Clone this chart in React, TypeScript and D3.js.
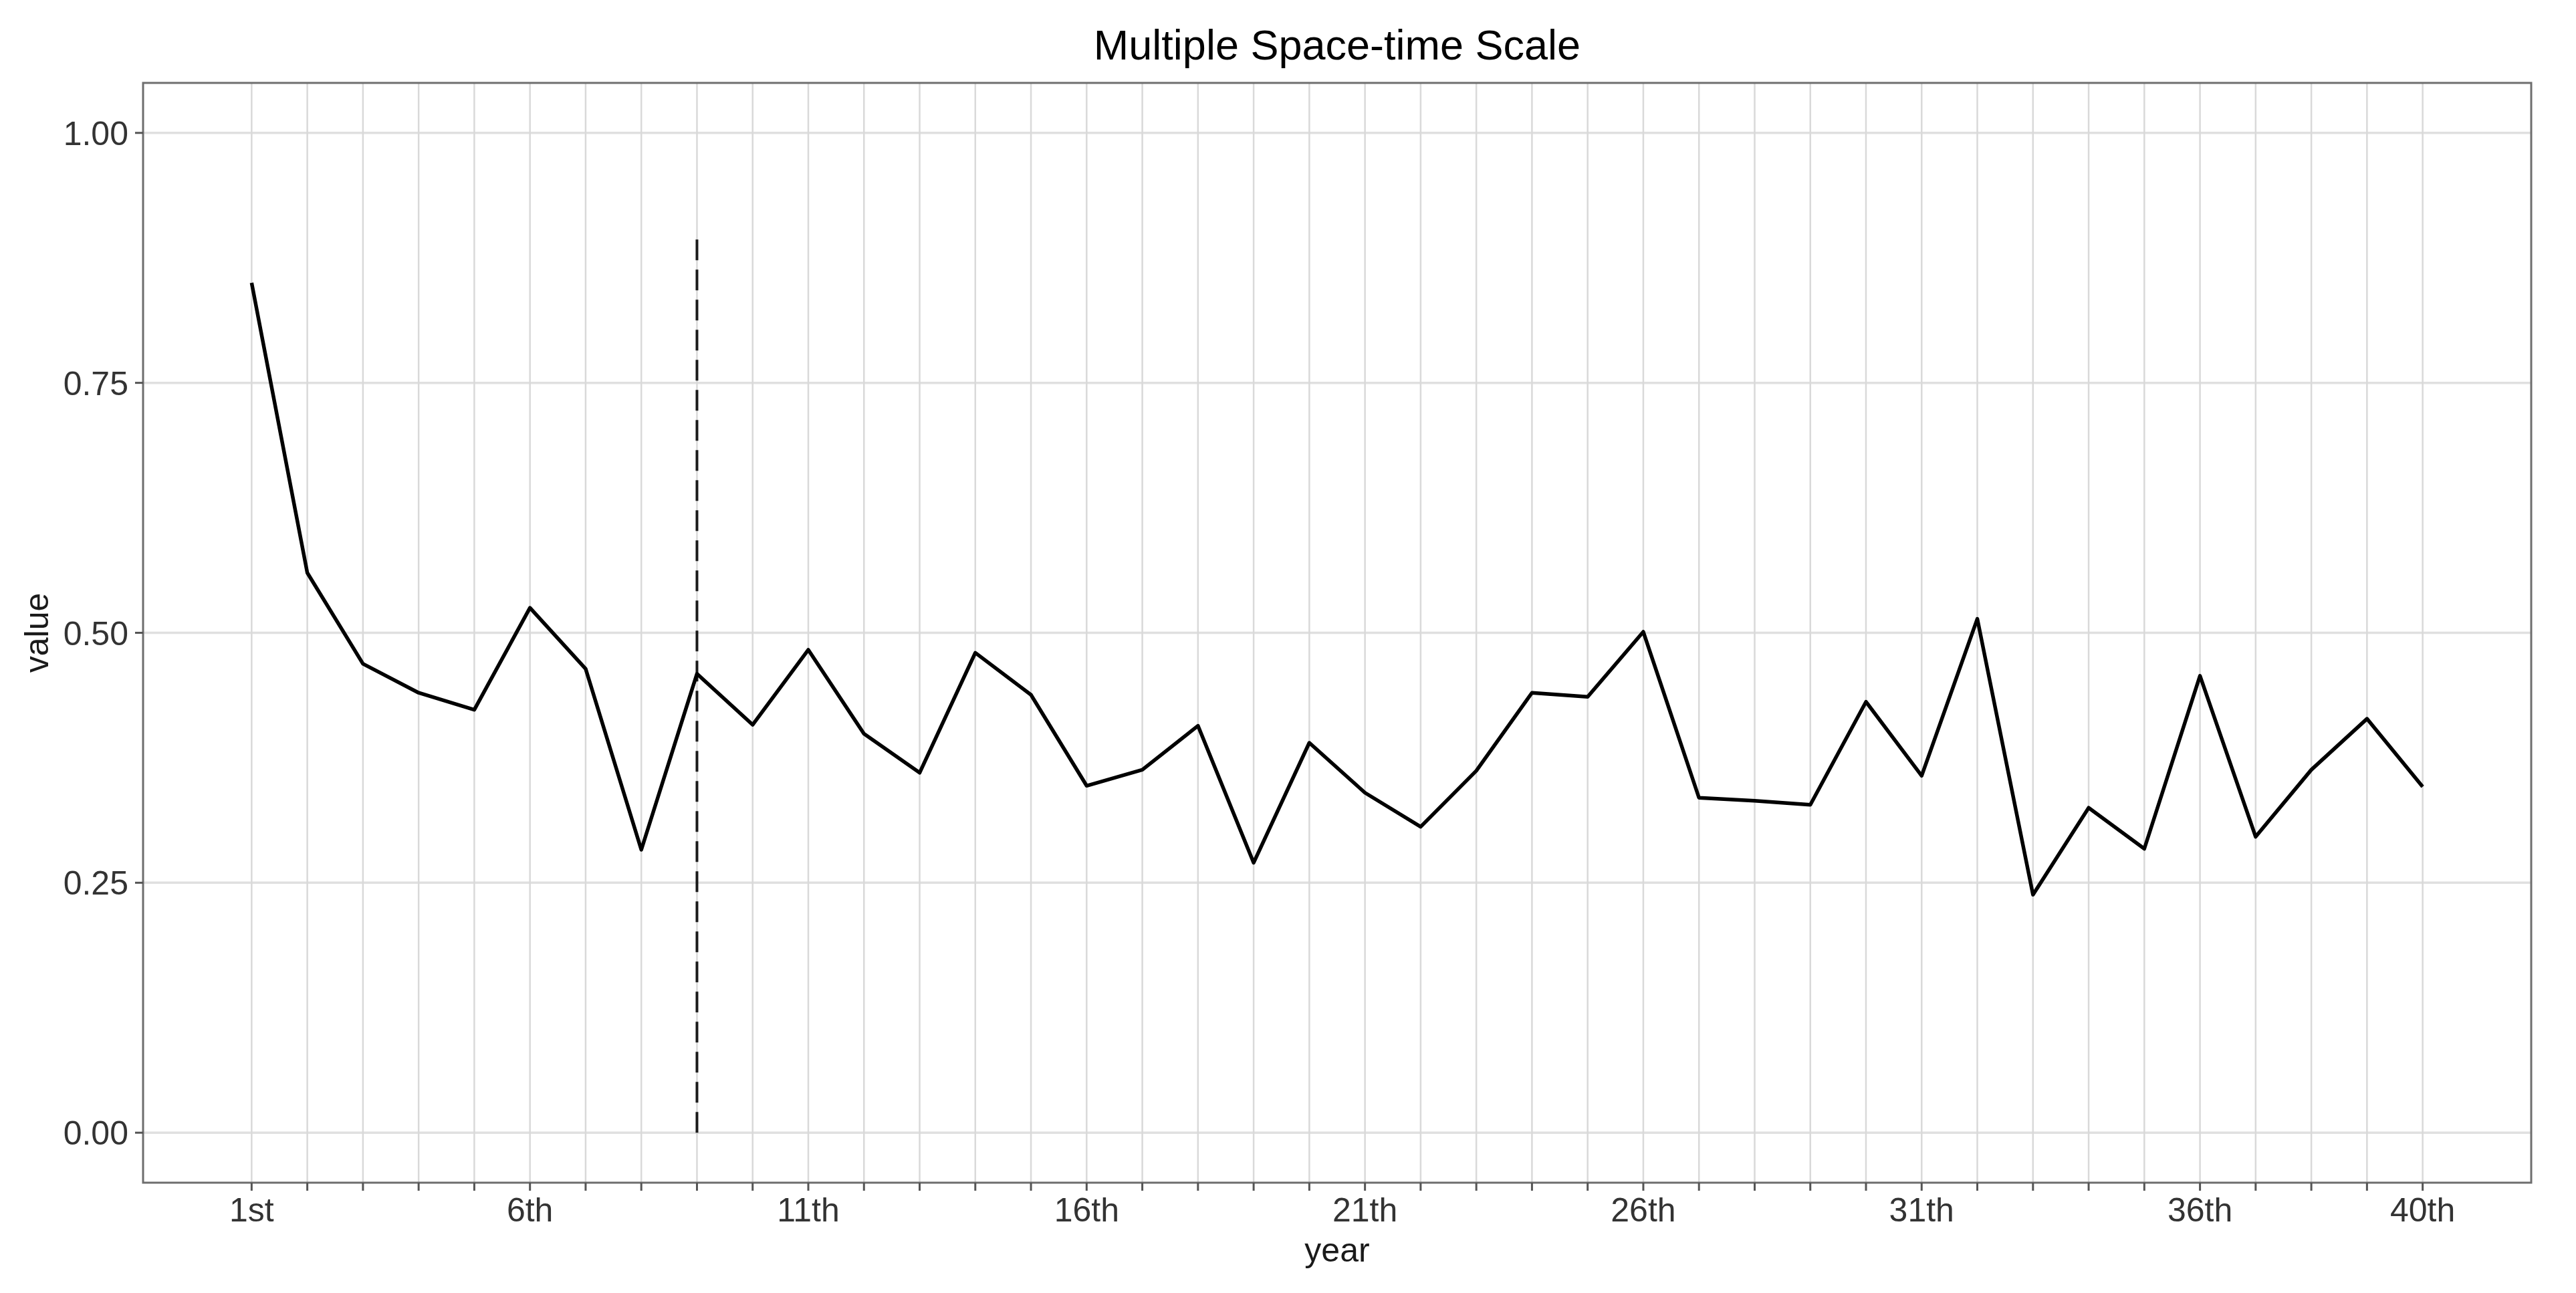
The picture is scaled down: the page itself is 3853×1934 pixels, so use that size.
import React from "react";
import * as d3 from "d3";

const years: number[] = d3.range(1, 41);
const values: number[] = [
  0.85, 0.56, 0.469, 0.44, 0.423, 0.525, 0.464, 0.283, 0.459, 0.408,
  0.483, 0.399, 0.36, 0.48, 0.438, 0.347, 0.363, 0.407, 0.27, 0.39,
  0.34, 0.306, 0.362, 0.44, 0.436, 0.501, 0.335, 0.332, 0.328, 0.431,
  0.357, 0.514, 0.238, 0.325, 0.284, 0.457, 0.296, 0.363, 0.414, 0.346,
];
const xLabelPositions: number[] = [1, 6, 11, 16, 21, 26, 31, 36, 40];
const xLabelTexts: string[] = ["1st", "6th", "11th", "16th", "21th", "26th", "31th", "36th", "40th"];
const yTicks: number[] = [0, 0.25, 0.5, 0.75, 1.0];
const vlineX = 9;
const vlineTop = 0.9;

const W = 3853;
const H = 1934;
const P = { left: 214, right: 3786, top: 124, bottom: 1769 };
const FONT = "'Liberation Sans', Arial, Helvetica, sans-serif";

export default function App() {
  const xSpan = 40 - 1;
  const x = d3.scaleLinear().domain([1 - 0.05 * xSpan, 40 + 0.05 * xSpan]).range([P.left, P.right]);
  const y = d3.scaleLinear().domain([-0.05, 1.05]).range([P.bottom, P.top]);
  const line = d3.line<number>().x((_, i) => x(years[i])).y((d) => y(d));
  const data = values;

  return (
    <svg width={W} height={H} style={{ position: "absolute", left: 0, top: 0, display: "block", background: "#fff" }}>
      <rect x={0} y={0} width={W} height={H} fill="#fff" />
      {/* grid */}
      {yTicks.map((t) => (
        <line key={"hy" + t} x1={P.left} x2={P.right} y1={y(t)} y2={y(t)} stroke="#E0E0E0" strokeWidth={3.5} />
      ))}
      {years.map((t) => (
        <line key={"vx" + t} x1={x(t)} x2={x(t)} y1={P.top} y2={P.bottom} stroke="#D9D9D9" strokeWidth={2.5} />
      ))}
      {/* dashed vertical */}
      <path
        d={`M${x(vlineX)},${y(0)}L${x(vlineX)},${y(vlineTop)}`}
        stroke="#1a1a1a"
        strokeWidth={4}
        strokeDasharray="31 14"
        fill="none"
      />
      {/* data line */}
      <path d={line(data) || ""} fill="none" stroke="#000" strokeWidth={5.5} strokeLinejoin="round" />
      {/* panel border */}
      <rect x={P.left} y={P.top} width={P.right - P.left} height={P.bottom - P.top} fill="none" stroke="#6e6e6e" strokeWidth={3} />
      {/* y ticks */}
      {yTicks.map((t) => (
        <g key={"yt" + t}>
          <line x1={P.left - 12} x2={P.left} y1={y(t)} y2={y(t)} stroke="#555" strokeWidth={3} />
          <text x={192} y={y(t)} dy="0.36em" textAnchor="end" fontFamily={FONT} fontSize={50} fill="#333">
            {d3.format(".2f")(t)}
          </text>
        </g>
      ))}
      {/* x ticks */}
      {years.map((t) => (
        <line key={"xt" + t} x1={x(t)} x2={x(t)} y1={P.bottom} y2={P.bottom + 12} stroke="#555" strokeWidth={3} />
      ))}
      {xLabelPositions.map((p, i) => (
        <text key={"xl" + p} x={x(p)} y={1827} textAnchor="middle" fontFamily={FONT} fontSize={50} fill="#333">
          {xLabelTexts[i]}
        </text>
      ))}
      {/* axis titles */}
      <text x={(P.left + P.right) / 2} y={1887} textAnchor="middle" fontFamily={FONT} fontSize={50} fill="#1a1a1a">
        year
      </text>
      <text
        transform={`translate(72,${(P.top + P.bottom) / 2}) rotate(-90)`}
        textAnchor="middle"
        fontFamily={FONT}
        fontSize={50}
        fill="#1a1a1a"
      >
        value
      </text>
      {/* title */}
      <text x={(P.left + P.right) / 2} y={89} textAnchor="middle" fontFamily={FONT} fontSize={63} fill="#000">
        Multiple Space-time Scale
      </text>
    </svg>
  );
}
